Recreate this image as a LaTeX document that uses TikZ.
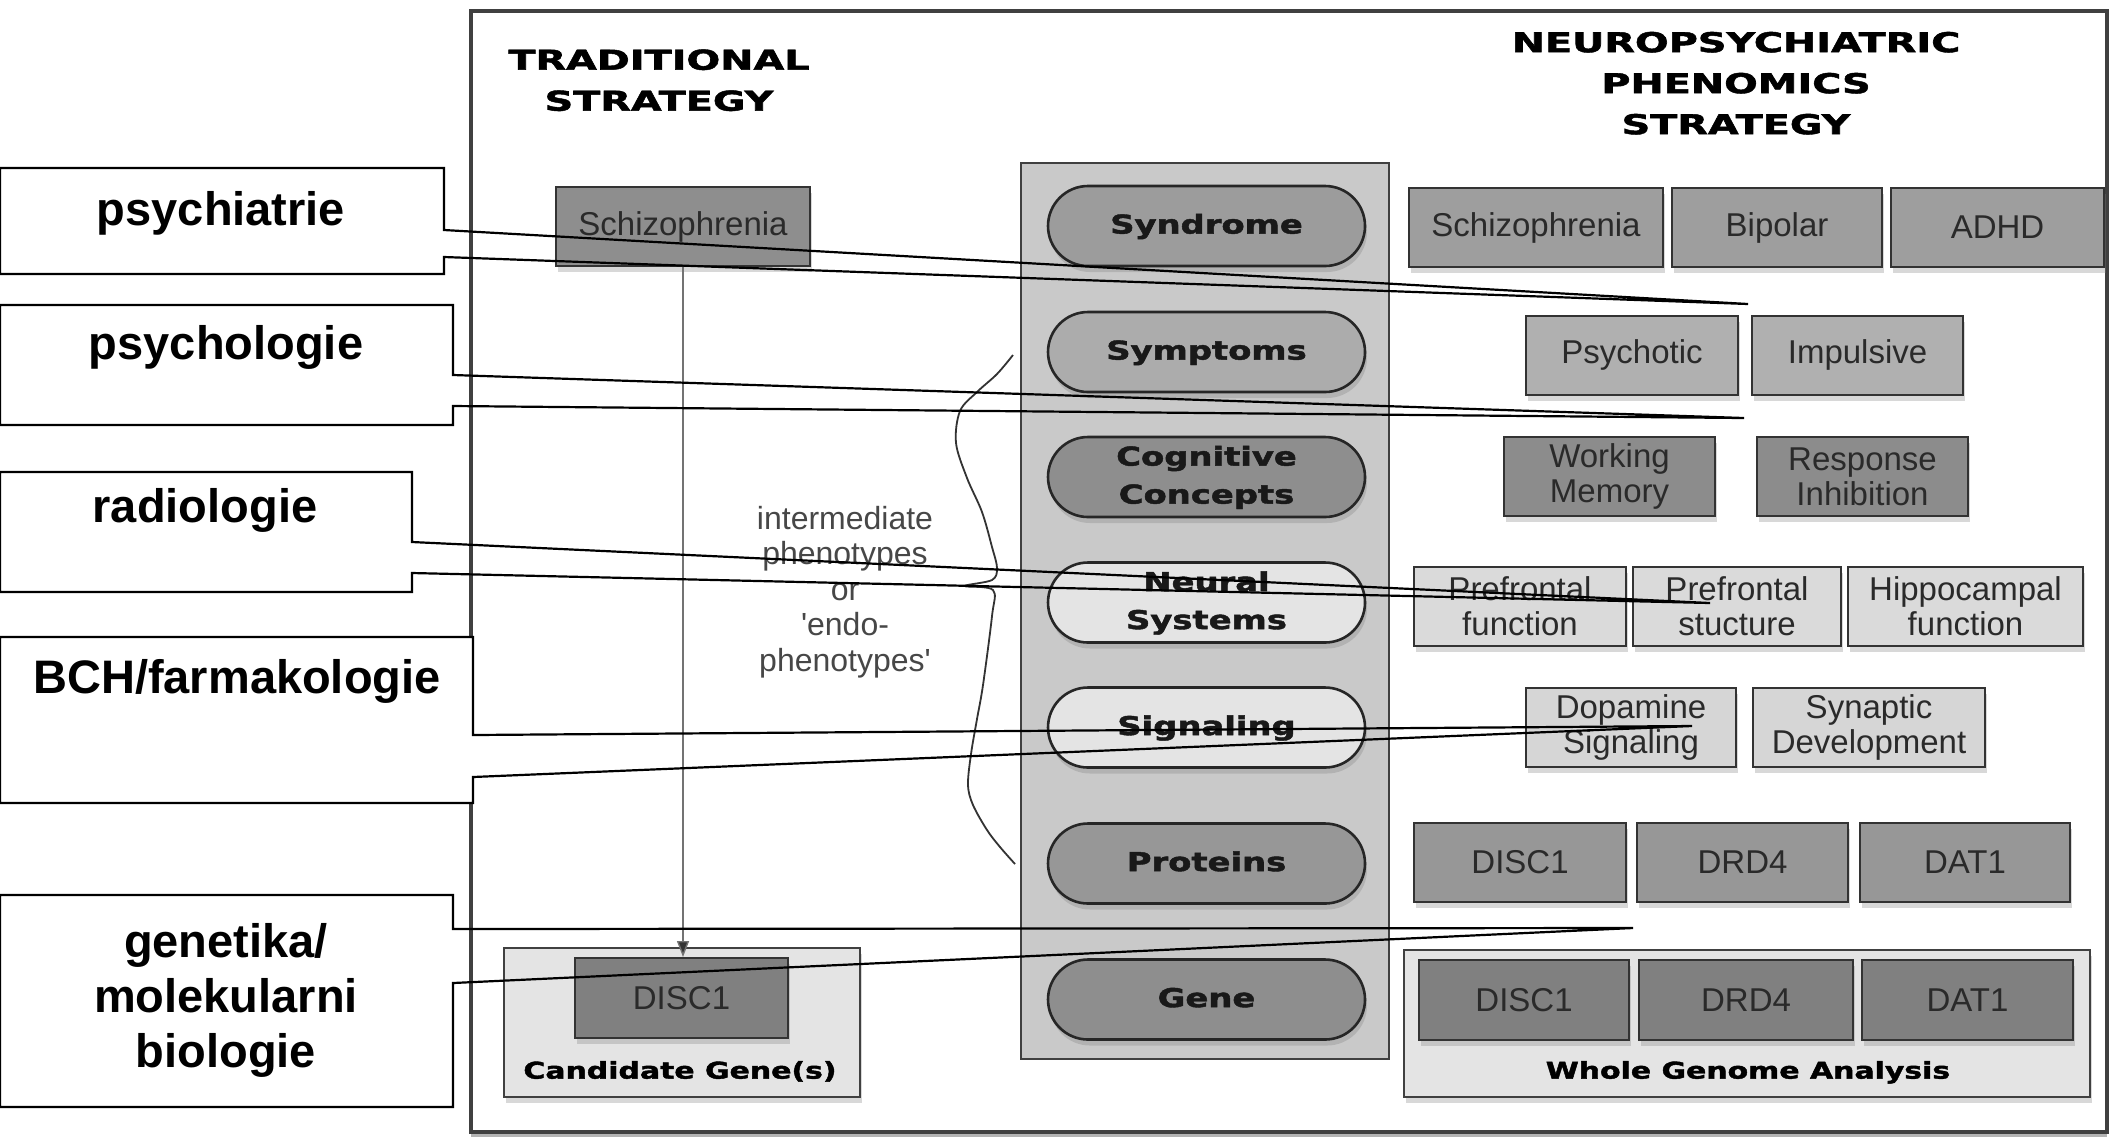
\documentclass[tikz,border=0pt]{standalone}
\usepackage{fontspec}
\setmainfont{Liberation Sans}
\newfontfamily\heavyfont{DejaVu Sans}[BoldFeatures={FakeBold=1.6}]
\usepackage{graphicx}
\usepackage{xcolor}
\usetikzlibrary{shapes.misc,shadows,arrows.meta}

\definecolor{midgray}{HTML}{C9C9C9}
\definecolor{pillA}{HTML}{9C9C9C}
\definecolor{pillB}{HTML}{ACACAC}
\definecolor{pillC}{HTML}{8E8E8E}
\definecolor{pillD}{HTML}{E4E4E4}
\definecolor{pillE}{HTML}{979797}
\definecolor{rowA}{HTML}{9E9E9E}
\definecolor{rowB}{HTML}{B0B0B0}
\definecolor{rowC}{HTML}{8C8C8C}
\definecolor{rowD}{HTML}{DADADA}
\definecolor{rowE}{HTML}{D6D6D6}
\definecolor{rowF}{HTML}{979797}
\definecolor{rowG}{HTML}{808080}
\definecolor{contgray}{HTML}{E4E4E4}
\definecolor{boxtext}{HTML}{2A2A2A}

% wide bold lettering of the original figure
\newcommand{\wide}[2][1.3]{\scalebox{#1}[1]{\begin{tabular}{@{}c@{}}#2\end{tabular}}}

\tikzset{
    boxshadow/.style={drop shadow={opacity=.3,shadow xshift=1pt,shadow yshift=-3pt}},
    frame/.style={draw=black!75,line width=1.6pt,
        drop shadow={opacity=.6,shadow xshift=0pt,shadow yshift=-2.5pt}},
    midcol/.style={draw=black!75,line width=1.3pt,fill=midgray},
    pill/.style={rounded rectangle,draw=black!85,line width=1.3pt,minimum width=158.5pt,
        minimum height=40pt,inner sep=0pt,text=black!90,
        font=\heavyfont\bfseries\fontsize{13}{19}\selectfont,boxshadow},
    tbox/.style={rectangle,draw=black!80,line width=1pt,minimum height=39.5pt,inner sep=0pt,
        text=boxtext,align=center,font=\fontsize{16.5}{17.5}\selectfont,boxshadow},
    cont/.style={rectangle,draw=black!75,line width=1pt,fill=contgray,boxshadow},
    capt/.style={text=black,font=\heavyfont\bfseries\fontsize{11.5}{14}\selectfont},
    headtxt/.style={text=black,font=\heavyfont\bfseries\fontsize{13.7}{20.5}\selectfont},
    endotxt/.style={text=black!72,align=center,font=\fontsize{16}{17.8}\selectfont},
    bracecurve/.style={draw=black!80,line width=.9pt},
    tarrow/.style={draw=black!55,line width=.7pt,-{Triangle[width=6pt,length=8pt,fill=black!80]}},
    lblbox/.style={rectangle,fill=white,inner sep=0pt,outer sep=0pt},
    calloutline/.style={draw=black,line width=1.1pt,line join=miter},
    lbltxt/.style={text=black,align=center,font=\bfseries\fontsize{23.5}{27.5}\selectfont}
}

\begin{document}
\begin{tikzpicture}[x=0.5pt,y=-0.5pt]
    \useasboundingbox (0,0) rectangle (2112,1137);
    % outer frame of the scheme
    \draw[frame,fill=white] (471,11) rectangle (2107,1132);

    % headings
    \node[headtxt] (trad) at (659,82) {\wide[1.45]{TRADITIONAL\\STRATEGY}};
    \node[headtxt] (neuro) at (1736,85) {\wide[1.45]{NEUROPSYCHIATRIC\\PHENOMICS\\STRATEGY}};

    % traditional strategy
    \node[tbox,fill=pillC,minimum width=127pt] (tschiz) at (683,226.5) {Schizophrenia};
    \node[cont,minimum width=178pt,minimum height=74.5pt] (cand) at (682,1022.5) {};
    \node[tbox,fill=rowG,minimum width=106.5pt,minimum height=40pt] (tdisc) at (681.5,998) {DISC1};
    \node[capt] (candt) at (680,1073) {\wide{Candidate Gene(s)}};
    \draw[tarrow] (tschiz.south) -- (tschiz.south |- tdisc.north);

    % middle column with the levels
    \draw[midcol] (1021,163) rectangle (1389,1059);
    \foreach \nm/\y/\fc/\txt in {lvSyn/226/pillA/Syndrome, lvSym/352/pillB/Symptoms,
        lvCog/477/pillC/Cognitive\\Concepts, lvNeu/602.5/pillD/Neural\\Systems,
        lvSig/727.5/pillD/Signaling, lvPro/863.5/pillE/Proteins, lvGen/999.5/pillC/Gene} {
        \node[pill,fill=\fc] (\nm) at (1206.5,\y) {\wide{\txt}};
    }

    % brace for the intermediate levels
    \draw[bracecurve] plot[smooth,tension=.55] coordinates {(1013,355) (997,374) (977,392)
        (960,411) (956,443) (967,478) (982,512) (992,547) (997,568) (992,580) (965,586)
        (993,590) (992,616) (983,685) (977,719) (971,754) (968,785) (973,805) (987,830)
        (1000,847) (1015,864)};
    \node[endotxt] (endo) at (845,592) {intermediate\\phenotypes\\or\\\textquotesingle endo-\\phenotypes\textquotesingle};

    % phenomics strategy, one row per level
    \foreach \nm/\x/\y/\w/\fc/\txt in {
        syn1/1536/227.5/254/rowA/Schizophrenia,
        syn2/1777/227.5/210/rowA/Bipolar,
        syn3/1997.5/227.5/213/rowA/ADHD,
        sym1/1632/355/212/rowB/Psychotic,
        sym2/1857.5/355/211/rowB/Impulsive,
        cog1/1609.5/476.5/211/rowC/Working\\Memory,
        cog2/1862.5/476.5/211/rowC/Response\\Inhibition,
        neu1/1520/606/212/rowD/Prefrontal\\function,
        neu2/1737/606/208/rowD/Prefrontal\\stucture,
        neu3/1965.5/606/235/rowD/Hippocampal\\function,
        sig1/1631/727.5/210/rowE/Dopamine\\Signaling,
        sig2/1869/727.5/232/rowE/Synaptic\\Development,
        pro1/1520/862.5/212/rowF/DISC1,
        pro2/1742.5/862.5/211/rowF/DRD4,
        pro3/1965/862.5/210/rowF/DAT1} {
        \node[tbox,fill=\fc,minimum width=\w*0.5pt] (\nm) at (\x,\y) {\txt};
    }
    \node[cont,minimum width=343pt,minimum height=73.5pt] (wga) at (1747,1023.5) {};
    \foreach \nm/\x/\w/\txt in {gen1/1524/210/DISC1, gen2/1746/214/DRD4, gen3/1967.5/211/DAT1} {
        \node[tbox,fill=rowG,minimum width=\w*0.5pt,minimum height=40pt] (\nm) at (\x,1000) {\txt};
    }
    \node[capt] (wgat) at (1748,1073) {\wide{Whole Genome Analysis}};

    % callouts of the disciplines
    \foreach \nm/\ytop/\ybot/\xr/\ya/\yb/\tx/\ty in {
        psy/168/274/444/230/257/1748/304,
        psl/305/425/453/375/406/1744/418,
        rad/472/592/412/542/573/1710/603,
        bch/637/803/473/735/777/1692/726,
        gnt/895/1107/453/929/983/1633/928} {
        \node[lblbox,minimum width=\xr*0.5pt,minimum height=(\ybot-\ytop)*0.5pt,anchor=north west] (\nm) at (0,\ytop) {};
        \coordinate (\nm-tip) at (\tx,\ty);
        \draw[calloutline] (\nm.north west) -- (\nm.north east) -- (\nm.east |- 0,\ya) -- (\nm-tip)
            -- (\nm.east |- 0,\yb) -- (\nm.south east) -- (\nm.south west) -- cycle;
    }
    \node[lbltxt] (psy-t) at (221,213) {psychiatrie};
    \node[lbltxt] (psl-t) at (226,347) {psychologie};
    \node[lbltxt] (rad-t) at (205,510) {radiologie};
    \node[lbltxt] (bch-t) at (237,681) {BCH/farmakologie};
    \node[lbltxt] (gnt-t) at (226,1000) {genetika/\\molekularni\\biologie};
\end{tikzpicture}
\end{document}
